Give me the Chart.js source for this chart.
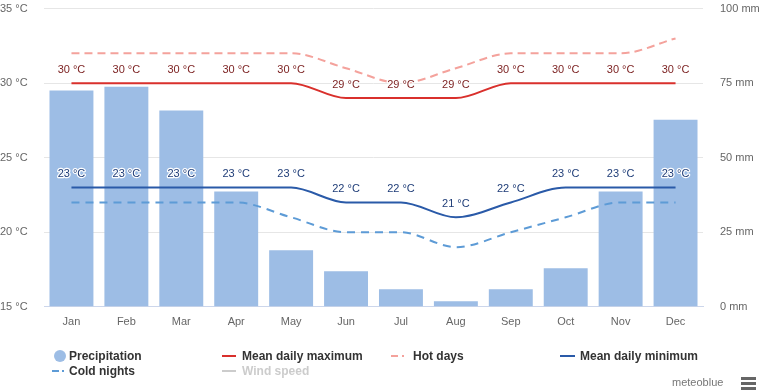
<!DOCTYPE html>
<html>
<head>
<meta charset="utf-8">
<script src="https://cdn.jsdelivr.net/npm/chart.js@4"></script>
<style>
  html, body { margin: 0; padding: 0; background: #fff; }
  #wrap { position: relative; width: 761px; height: 392px; overflow: hidden; font-family: 'Liberation Sans', Arial, sans-serif; }
  #c { position: absolute; left: 0; top: 0; }
  .lg { position: absolute; font-size: 12px; font-weight: bold; color: #333; line-height: 14px; white-space: nowrap; }
  .sym { position: absolute; }
</style>
</head>
<body>
<div id="wrap">
  <canvas id="c" width="761" height="392"></canvas>
</div>
<script>
const months = ['Jan','Feb','Mar','Apr','May','Jun','Jul','Aug','Sep','Oct','Nov','Dec'];
const precipitation = [72.5, 73.8, 65.8, 38.7, 19, 11.9, 5.9, 1.9, 5.9, 12.9, 38.7, 62.7];
const meanMax = [30, 30, 30, 30, 30, 29, 29, 29, 30, 30, 30, 30];
const hotDays = [32, 32, 32, 32, 32, 31, 30, 31, 32, 32, 32, 33];
const meanMin = [23, 23, 23, 23, 23, 22, 22, 21, 22, 23, 23, 23];
const coldNights = [22, 22, 22, 22, 21, 20, 20, 19, 20, 21, 22, 22];
const tempTicks = [15, 20, 25, 30, 35];
const precTicks = [0, 25, 50, 75, 100];

const FONT = "'Liberation Sans', Arial, sans-serif";

const labelPlugin = {
  id: 'pointLabels',
  afterDatasetsDraw(chart) {
    const ctx = chart.ctx;
    chart.data.datasets.forEach((ds, i) => {
      if (!ds.labelColor) return;
      const meta = chart.getDatasetMeta(i);
      ctx.save();
      ctx.font = '11px ' + FONT;
      ctx.textAlign = 'center';
      ctx.textBaseline = 'middle';
      ctx.lineJoin = 'round';
      meta.data.forEach((pt, j) => {
        const txt = ds.data[j] + ' °C';
        const y = pt.y - 13.5;
        ctx.strokeStyle = '#fff';
        ctx.lineWidth = 2.5;
        ctx.strokeText(txt, pt.x, y);
        ctx.fillStyle = ds.labelColor;
        ctx.fillText(txt, pt.x, y);
      });
      ctx.restore();
    });
  }
};

const lineBase = {
  type: 'line',
  yAxisID: 'y',
  pointRadius: 0,
  pointHoverRadius: 0,
  borderWidth: 2,
  fill: false,
  cubicInterpolationMode: 'monotone',
  order: 1
};

new Chart(document.getElementById('c'), {
  type: 'bar',
  data: {
    labels: months,
    datasets: [
      Object.assign({}, lineBase, { label: 'Mean daily maximum', data: meanMax, borderColor: '#d9302c', labelColor: '#7a1e1e', order: 1 }),
      Object.assign({}, lineBase, { label: 'Hot days', data: hotDays, borderColor: '#f4a29c', borderDash: [8, 5], order: 3 }),
      Object.assign({}, lineBase, { label: 'Mean daily minimum', data: meanMin, borderColor: '#2a5aa8', labelColor: '#1f3d78', order: 2 }),
      Object.assign({}, lineBase, { label: 'Cold nights', data: coldNights, borderColor: '#5d9bd6', borderDash: [8, 6], order: 4 }),
      { type: 'bar', label: 'Precipitation', data: precipitation, yAxisID: 'y1', backgroundColor: '#9dbde5', borderWidth: 0, barPercentage: 0.8, categoryPercentage: 1, order: 10 }
    ]
  },
  options: {
    responsive: false,
    animation: false,
    events: [],
    layout: { padding: { top: 6, bottom: 54, left: 0, right: 0 } },
    plugins: { legend: { display: false }, tooltip: { enabled: false } },
    scales: {
      x: {
        grid: { display: false, drawTicks: false, tickLength: 0 },
        border: { display: true, color: '#ccd6eb' },
        ticks: { color: '#666', font: { family: FONT, size: 11 }, padding: 9, maxRotation: 0 }
      },
      y: {
        position: 'left',
        min: 15, max: 35,
        afterBuildTicks(scale) { scale.ticks = tempTicks.map(v => ({ value: v })); },
        afterFit(scale) { scale.width = 44; },
        grid: { color: '#e6e6e6', drawTicks: false, tickLength: 0 },
        border: { display: false },
        ticks: { color: '#666', font: { family: FONT, size: 11 }, crossAlign: 'far', padding: 0, callback: v => v + ' °C' }
      },
      y1: {
        position: 'right',
        min: 0, max: 100,
        afterBuildTicks(scale) { scale.ticks = precTicks.map(v => ({ value: v })); },
        afterFit(scale) { scale.width = 58; },
        grid: { display: true, drawOnChartArea: false, drawTicks: true, tickLength: 15, tickColor: 'rgba(0,0,0,0)' },
        border: { display: false },
        ticks: { color: '#666', font: { family: FONT, size: 11 }, padding: 2, callback: v => v + ' mm' }
      }
    }
  },
  plugins: [labelPlugin]
});

// HTML legend
const wrap = document.getElementById('wrap');
function addSym(x, y, w, h, bg, extra) {
  const d = document.createElement('div');
  d.className = 'sym';
  d.style.left = x + 'px'; d.style.top = y + 'px';
  d.style.width = w + 'px'; d.style.height = h + 'px';
  d.style.background = bg;
  if (extra) Object.assign(d.style, extra);
  wrap.appendChild(d);
}
function addText(x, yc, txt, color) {
  const d = document.createElement('div');
  d.className = 'lg';
  d.textContent = txt;
  d.style.left = x + 'px';
  d.style.top = (yc - 7) + 'px';
  if (color) d.style.color = color;
  wrap.appendChild(d);
}
const r1 = 356, r2 = 371;
addSym(54, r1 - 6, 12, 12, '#9dbde5', { borderRadius: '50%' });
addText(69, r1, 'Precipitation');
addSym(52, r2 - 1, 7, 2, '#5d9bd6'); addSym(62, r2 - 1, 2, 2, '#5d9bd6');
addText(69, r2, 'Cold nights');
addSym(222, r1 - 1, 14, 2, '#d9302c');
addText(242, r1, 'Mean daily maximum');
addSym(222, r2 - 1, 14, 2, '#cccccc');
addText(242, r2, 'Wind speed', '#cccccc');
addSym(391, r1 - 1, 7, 2, '#f4a29c'); addSym(402, r1 - 1, 2, 2, '#f4a29c');
addText(413, r1, 'Hot days');
addSym(560, r1 - 1, 15, 2, '#2a5aa8');
addText(580, r1, 'Mean daily minimum');
// credits and menu
const cr = document.createElement('div');
cr.textContent = 'meteoblue';
Object.assign(cr.style, { position: 'absolute', left: '672px', top: '376px', fontSize: '11px', color: '#777', fontFamily: FONT });
wrap.appendChild(cr);
addSym(741, 377, 15, 3, '#666'); addSym(741, 382, 15, 3, '#666'); addSym(741, 387, 15, 3, '#666');
</script>
</body>
</html>
